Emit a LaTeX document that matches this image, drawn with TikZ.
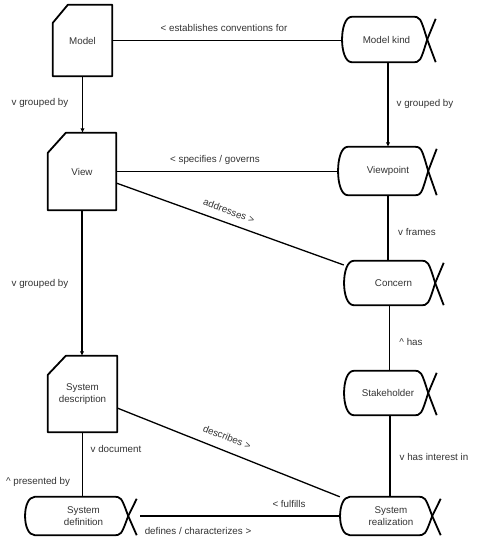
\documentclass[tikz,border=0pt]{standalone}
\usepackage{fontspec}
\setmainfont{Liberation Sans}
\usetikzlibrary{arrows.meta,calc}
\definecolor{txt}{HTML}{333333}
\newcommand\docoutline[3]{\draw[shapeline] ([yshift=-#3pt]#1.north west) -- ([xshift=#2pt]#1.north west) -- (#1.north east) -- (#1.south east) -- (#1.south west) -- cycle;}
\newcommand\kindoutline[1]{%
  \draw[shapeline] ([xshift=10pt]#1.north west) -- ([xshift=-15pt]#1.north east) .. controls ([xshift=-7pt]#1.north east) .. (#1.east) .. controls ([xshift=-7pt]#1.south east) .. ([xshift=-15pt]#1.south east) -- ([xshift=10pt]#1.south west) .. controls ([xshift=-3pt]#1.south west) and ([xshift=-3pt]#1.north west) .. ([xshift=10pt]#1.north west) -- cycle;
  \draw[shapeline] ([xshift=8.5pt,yshift=-2pt]#1.north east) -- (#1.east) -- ([xshift=8.5pt]#1.south east);}
\begin{document}
\begin{tikzpicture}[x=1pt,y=-1pt,
  font=\fontsize{9.8}{12.5}\selectfont, text=txt,
  shapeline/.style={line width=1.8pt, line join=round, draw=black},
  conn/.style={line width=1.3pt, draw=black},
  arr/.style={conn,-{Latex[length=4.5pt,width=4.5pt]}},
  box/.style={draw=none, inner sep=0pt, align=center},
  lbl/.style={inner sep=0pt, align=center, text=txt}]
\path[use as bounding box] (0,0) rectangle (485,542);
% document shapes
\node[box, minimum width=59pt, minimum height=71pt] (model) at (82.5,40.5) {Model};
\node[box, minimum width=68pt, minimum height=77pt] (view) at (82,171.5) {View};
\node[box, minimum width=69pt, minimum height=76pt] (sd) at (82.5,394) {System\\description};
\docoutline{model}{15}{18}
\docoutline{view}{18}{20}
\docoutline{sd}{18}{19}
% kind shapes
\node[box, minimum width=85pt, minimum height=45pt, label={[lbl,xshift=2pt]center:Model kind}] (mk) at (384.5,39.5) {};
\node[box, minimum width=90pt, minimum height=48pt, label={[lbl,xshift=5pt]center:Viewpoint}] (vp) at (383,171) {};
\node[box, minimum width=91pt, minimum height=44pt, label={[lbl,xshift=4pt]center:Concern}] (con) at (389.5,283) {};
\node[box, minimum width=84pt, minimum height=44pt, label={[lbl,xshift=2pt]center:Stakeholder}] (sh) at (386,393) {};
\node[box, minimum width=103pt, minimum height=38pt, label={[lbl,xshift=7pt]center:System\\definition}] (sdef) at (76.5,516) {};
\node[box, minimum width=92pt, minimum height=38pt, label={[lbl,xshift=5pt]center:System\\realization}] (sr) at (386,516) {};
\kindoutline{mk}
\kindoutline{vp}
\kindoutline{con}
\kindoutline{sh}
\kindoutline{sdef}
\kindoutline{sr}
% helper coordinates
\coordinate (mkS) at ($(mk.south)+(3.5,0)$);
\coordinate (vpS) at ($(vp.south)+(5,0)$);
\coordinate (shS) at ($(sh.south)+(4,0)$);
\coordinate (viewA) at ($(view.east)+(0,11.5)$);
\coordinate (conA) at ($(con.west)+(0,-18)$);
\coordinate (sdA) at ($(sd.east)+(0,14)$);
\coordinate (sdefA) at ($(sdef.east)+(12,0)$);
% connectors
\draw[conn] (model.east) -- (model.east -| mk.west);
\draw[arr] (model.south) -- (model.south |- view.north);
\draw[arr] (mkS) -- (mkS |- vp.north);
\draw[conn] (view.east) -- (view.east -| vp.west);
\draw[conn] (viewA) -- (conA);
\draw[conn] (vpS) -- (vpS |- con.north);
\draw[arr] (view.south) -- (view.south |- sd.north);
\draw[conn] (con.south) -- (con.south |- sh.north);
\draw[conn] (sdA) -- (sr.north west);
\draw[conn] (shS) -- (shS |- sr.north);
\draw[conn] (sd.south) -- (sd.south |- sdef.north);
\draw[conn] (sdefA) -- (sdefA -| sr.west);
% labels
\node[lbl] (l1) at (224,28) {< establishes conventions for};
\node[lbl] (l2) at (40,103) {v grouped by};
\node[lbl] (l3) at (425,104) {v grouped by};
\node[lbl] (l4) at (215,160) {< specifies / governs};
\node[lbl, rotate=-20.4] (l5) at (229,211) {addresses >};
\node[lbl] (l6) at (417,232) {v frames};
\node[lbl] (l7) at (40,284) {v grouped by};
\node[lbl] (l8) at (411,342) {\textasciicircum{} has};
\node[lbl, rotate=-21.5] (l9) at (227,437) {describes >};
\node[lbl] (l10) at (434,457) {v has interest in};
\node[lbl] (l11) at (116,449) {v document};
\node[lbl] (l12) at (38,482) {\textasciicircum{} presented by};
\node[lbl] (l13) at (289,504) {< fulfills};
\node[lbl] (l14) at (198,531) {defines / characterizes >};
\end{tikzpicture}
\end{document}
